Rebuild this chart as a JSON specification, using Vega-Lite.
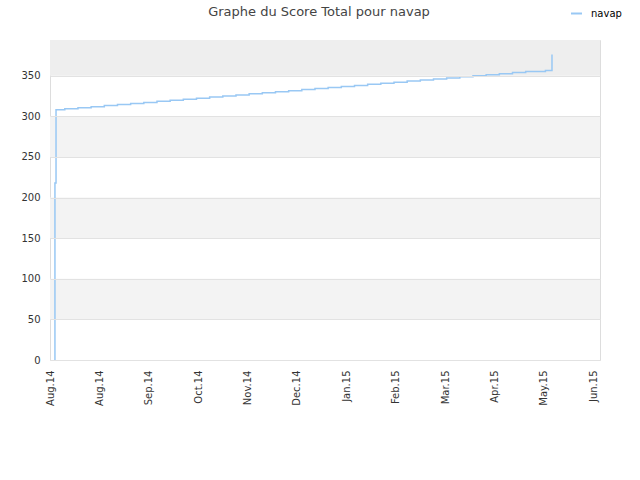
{
  "$schema": "https://vega.github.io/schema/vega-lite/v6.json",
  "width": 550,
  "height": 320,
  "autosize": "none",
  "padding": {"left": 50, "top": 40, "right": 40, "bottom": 120},
  "config": {
    "font": "DejaVu Sans",
    "view": {"stroke": "#dddddd"},
    "axis": {"labelColor": "#333333", "labelFontSize": 10, "ticks": false, "domain": false, "titleFontSize": 10}
  },
  "title": {
    "text": "Graphe du Score Total pour navap",
    "fontSize": 13,
    "fontWeight": "normal",
    "color": "#444444",
    "frame": "group",
    "anchor": "middle",
    "offset": -12,
    "dx": -6
  },
  "datasets": {
    "bands": [
      {"lo": 50, "hi": 100},
      {"lo": 150, "hi": 200},
      {"lo": 250, "hi": 300},
      {"lo": 350, "hi": 394}
    ],
    "score": [
      {"date": "2014-08-03T20:00", "score": 0},
      {"date": "2014-08-04T00:00", "score": 218},
      {"date": "2014-08-04T16:00", "score": 308},
      {"date": "2014-08-10T00:00", "score": 309.3},
      {"date": "2014-08-18T00:00", "score": 310.6},
      {"date": "2014-08-26T00:00", "score": 311.9},
      {"date": "2014-09-03T00:00", "score": 313.2},
      {"date": "2014-09-11T00:00", "score": 314.6},
      {"date": "2014-09-19T00:00", "score": 315.9},
      {"date": "2014-09-27T00:00", "score": 317.2},
      {"date": "2014-10-05T00:00", "score": 318.5},
      {"date": "2014-10-13T00:00", "score": 319.8},
      {"date": "2014-10-21T00:00", "score": 321.1},
      {"date": "2014-10-29T00:00", "score": 322.4},
      {"date": "2014-11-06T00:00", "score": 323.7},
      {"date": "2014-11-14T00:00", "score": 325.0},
      {"date": "2014-11-22T00:00", "score": 326.3},
      {"date": "2014-11-30T00:00", "score": 327.7},
      {"date": "2014-12-08T00:00", "score": 329.0},
      {"date": "2014-12-16T00:00", "score": 330.3},
      {"date": "2014-12-24T00:00", "score": 331.6},
      {"date": "2015-01-01T00:00", "score": 332.9},
      {"date": "2015-01-09T00:00", "score": 334.2},
      {"date": "2015-01-17T00:00", "score": 335.5},
      {"date": "2015-01-25T00:00", "score": 336.8},
      {"date": "2015-02-02T00:00", "score": 338.1},
      {"date": "2015-02-10T00:00", "score": 339.4},
      {"date": "2015-02-18T00:00", "score": 340.8},
      {"date": "2015-02-26T00:00", "score": 342.1},
      {"date": "2015-03-06T00:00", "score": 343.4},
      {"date": "2015-03-14T00:00", "score": 344.7},
      {"date": "2015-03-22T00:00", "score": 346.0},
      {"date": "2015-03-30T00:00", "score": 347.3},
      {"date": "2015-04-07T00:00", "score": 348.6},
      {"date": "2015-04-15T00:00", "score": 349.9},
      {"date": "2015-04-23T00:00", "score": 351.2},
      {"date": "2015-05-01T00:00", "score": 352.5},
      {"date": "2015-05-09T00:00", "score": 353.9},
      {"date": "2015-05-17T00:00", "score": 355.2},
      {"date": "2015-05-29T00:00", "score": 356.5},
      {"date": "2015-06-02T00:00", "score": 376}
    ]
  },
  "layer": [
    {
      "data": {"name": "bands"},
      "mark": {"type": "rect"},
      "encoding": {
        "y": {
          "field": "lo",
          "type": "quantitative",
          "title": null,
          "scale": {"domain": [0, 394], "nice": false},
          "axis": {
            "values": [0, 50, 100, 150, 200, 250, 300, 350],
            "grid": true,
            "gridColor": "#e2e2e2",
            "labelPadding": 10,
            "zindex": 1
          }
        },
        "y2": {"field": "hi"},
        "fill": {
          "condition": {"test": "datum.lo >= 350", "value": "#eeeeee"},
          "value": "#f3f3f3"
        }
      }
    },
    {
      "data": {"name": "score"},
      "mark": {"type": "line", "interpolate": "step-after", "strokeWidth": 1.5},
      "encoding": {
        "x": {
          "field": "date",
          "type": "temporal",
          "title": null,
          "scale": {
            "domain": [
              {"year": 2014, "month": 8, "date": 1},
              {"year": 2015, "month": 7, "date": 1, "hours": 4}
            ]
          },
          "axis": {
            "values": [
              {"year": 2014, "month": 8, "date": 1},
              {"year": 2014, "month": 8, "date": 31},
              {"year": 2014, "month": 9, "date": 30},
              {"year": 2014, "month": 10, "date": 30},
              {"year": 2014, "month": 11, "date": 29},
              {"year": 2014, "month": 12, "date": 29},
              {"year": 2015, "month": 1, "date": 28},
              {"year": 2015, "month": 2, "date": 27},
              {"year": 2015, "month": 3, "date": 29},
              {"year": 2015, "month": 4, "date": 28},
              {"year": 2015, "month": 5, "date": 28},
              {"year": 2015, "month": 6, "date": 27}
            ],
            "format": "%b.%y",
            "labelAngle": -90,
            "labelPadding": 10,
            "labelOverlap": false,
            "labelFlush": false,
            "grid": false
          }
        },
        "y": {"field": "score", "type": "quantitative"},
        "color": {
          "datum": "navap",
          "type": "nominal",
          "scale": {"range": ["#99c8f4"]},
          "legend": {
            "title": null,
            "orient": "none",
            "legendX": 520,
            "legendY": -33,
            "labelFontSize": 10,
            "labelColor": "#000000",
            "labelOffset": 8,
            "symbolStrokeWidth": 2,
            "symbolSize": 120,
            "padding": 0
          }
        }
      }
    }
  ]
}
